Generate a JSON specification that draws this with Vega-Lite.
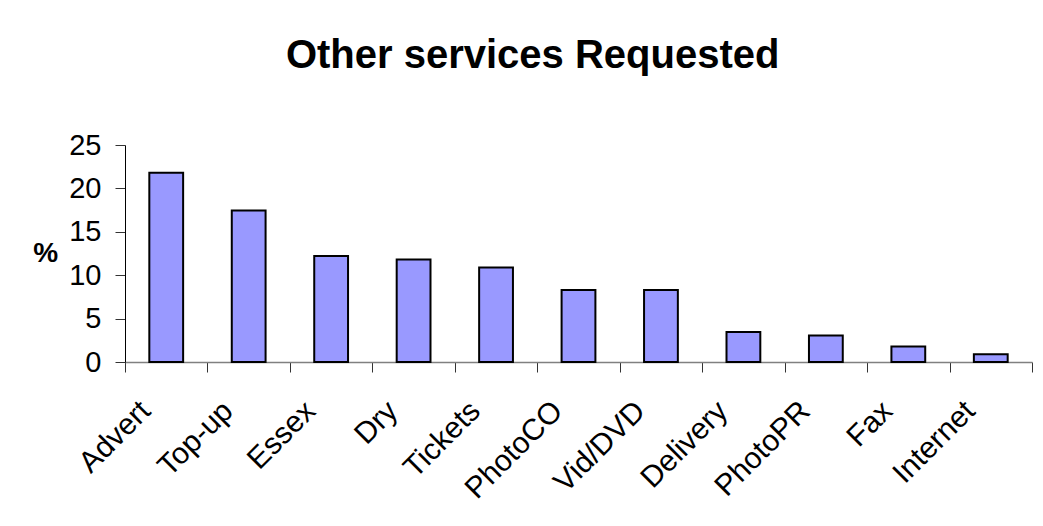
{
  "$schema": "https://vega.github.io/schema/vega-lite/v6.json",
  "width": 907,
  "height": 217,
  "autosize": {"type": "none"},
  "padding": {"left": 125, "top": 145, "right": 11, "bottom": 164},
  "background": "white",
  "title": {
    "text": "Other services Requested",
    "font": "Liberation Sans",
    "fontSize": 40,
    "fontWeight": "bold",
    "color": "black",
    "anchor": "middle",
    "frame": "bounds",
    "offset": 55
  },
  "data": {
    "values": [
      {"service": "Advert", "pct": 21.8},
      {"service": "Top-up", "pct": 17.45},
      {"service": "Essex", "pct": 12.2},
      {"service": "Dry", "pct": 11.8},
      {"service": "Tickets", "pct": 10.9},
      {"service": "PhotoCO", "pct": 8.3},
      {"service": "Vid/DVD", "pct": 8.3},
      {"service": "Delivery", "pct": 3.45},
      {"service": "PhotoPR", "pct": 3.04},
      {"service": "Fax", "pct": 1.8},
      {"service": "Internet", "pct": 0.9}
    ]
  },
  "mark": {"type": "bar", "fill": "#9999FF", "stroke": "black", "strokeWidth": 2, "width": {"band": 0.41}},
  "encoding": {
    "x": {
      "field": "service",
      "type": "nominal",
      "sort": null,
      "scale": {"paddingInner": 0, "paddingOuter": 0},
      "axis": {
        "title": null,
        "labelAngle": -45,
        "labelAlign": "right",
        "labelBaseline": "middle",
        "labelFont": "Liberation Sans",
        "labelFontSize": 30,
        "labelColor": "black",
        "labelPadding": 34,
        "labelOffset": -21,
        "tickBand": "extent",
        "tickSize": 10,
        "tickColor": "#333333",
        "domainColor": "#808080",
        "domainWidth": 1.5,
        "grid": false
      }
    },
    "y": {
      "field": "pct",
      "type": "quantitative",
      "scale": {"domain": [0, 25], "nice": false},
      "axis": {
        "title": "%",
        "titleAngle": 0,
        "titleAlign": "right",
        "titleBaseline": "middle",
        "titleFont": "Liberation Sans",
        "titleFontSize": 28,
        "titleFontWeight": "bold",
        "titleColor": "black",
        "titlePadding": 11,
        "values": [0, 5, 10, 15, 20, 25],
        "labelFont": "Liberation Sans",
        "labelFontSize": 29,
        "labelColor": "black",
        "labelPadding": 14,
        "tickSize": 10,
        "tickColor": "#333333",
        "domainColor": "black",
        "grid": false
      }
    }
  },
  "config": {"view": {"stroke": null}}
}
